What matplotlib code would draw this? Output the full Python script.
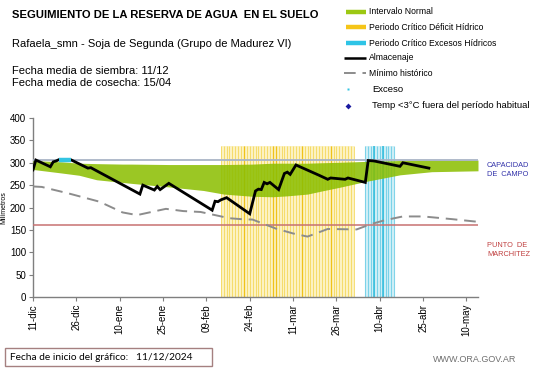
import numpy as np
import pandas as pd
import matplotlib
matplotlib.use("Agg")
import matplotlib.pyplot as plt
from matplotlib.patches import Rectangle

# ---------------- data ----------------
start_date = "2024-12-11"
end_date = "2025-05-14"

tick_dates = ["2024-12-11", "2024-12-26", "2025-01-10", "2025-01-25", "2025-02-09",
              "2025-02-24", "2025-03-11", "2025-03-26", "2025-04-10", "2025-04-25",
              "2025-05-10"]
tick_labels = ["11-dic", "26-dic", "10-ene", "25-ene", "09-feb", "24-feb",
               "11-mar", "26-mar", "10-abr", "25-abr", "10-may"]
y_ticks = [0, 50, 100, 150, 200, 250, 300, 350, 400]

# Almacenaje (day offset from start, mm)
storage_day = [0, 1, 6, 7, 8, 9, 13, 19, 20, 37, 38, 42, 43, 44, 47, 62, 63, 64, 65, 67,
               75, 77, 78, 79, 80, 81, 82, 85, 87, 88, 89, 91, 99, 102, 103, 108, 109,
               115, 116, 118, 127, 128, 137]
storage_mm = [284, 306, 291, 302, 304, 307, 307, 288, 289, 230, 250, 239, 247, 240, 254,
              194, 214, 213, 217, 222, 186, 237, 241, 240, 256, 253, 256, 240, 276, 279,
              274, 295, 272, 263, 266, 263, 266, 256, 305, 304, 292, 300, 288]

# Exceso (storage above field capacity)
exceso_day = [9, 10, 11, 12, 13]
exceso_mm = [307, 307, 307, 307, 307]

# Minimo historico
min_day = [0, 3, 12, 23, 31, 36, 46, 52, 58, 63, 68, 72, 76, 84, 90, 95, 102, 112, 117,
           122, 128, 135, 145, 154]
min_mm = [247, 246, 232, 213, 189, 183, 197, 192, 190, 183, 176, 174, 173, 153, 142,
          135, 152, 151, 163, 172, 180, 180, 174, 168]

# Intervalo normal
band_day = [0, 10, 16, 22, 31, 34, 47, 59, 66, 76, 83, 88, 95, 100, 106, 115, 127, 138, 154]
band_upper = [305, 302, 299, 298, 297, 297, 296, 296, 296, 297, 299, 299, 299, 300, 301,
              303, 305, 306, 306]
band_lower = [285, 277, 272, 262, 256, 254, 246, 238, 230, 225, 224, 226, 230, 237, 245,
              258, 273, 280, 282]

capacidad_campo = 307
punto_marchitez = 161

deficit_start = "2025-02-14"
deficit_end = "2025-04-01"
deficit_strong = ["2025-02-22", "2025-03-04", "2025-03-05", "2025-03-14", "2025-03-24"]
exceso_start = "2025-04-05"
exceso_end = "2025-04-15"
exceso_strong = ["2025-04-08", "2025-04-11"]
period_top = 337

# ---------------- helpers ----------------
t0 = pd.Timestamp(start_date)
def doff(s):
    return (pd.Timestamp(s) - t0).days

W, H = 541, 368
fig = plt.figure(figsize=(W / 100, H / 100), dpi=100)
plt.rcParams['font.family'] = ['Liberation Sans', 'DejaVu Sans']

x0, x1 = 33, 478
ytop, ybot = 118, 297
ax = fig.add_axes([x0 / W, (H - ybot) / H, (x1 - x0) / W, (ybot - ytop) / H])
ax.set_xlim(0, doff(end_date))
ax.set_ylim(0, 400)

# critical periods: pale band + daily lines
ds, de = doff(deficit_start), doff(deficit_end)
ax.fill_between([ds, de], 0, period_top, color="#fcf2c2", lw=0, zorder=1.5)
ax.vlines(np.arange(ds, de + 0.01, 1.0), 0, period_top, color="#f3d654", lw=0.7,
          alpha=0.8, zorder=2)
ax.vlines([doff(s) for s in deficit_strong], 0, period_top, color="#efc21a", lw=0.9,
          zorder=2)
es, ee = doff(exceso_start), doff(exceso_end)
ax.fill_between([es, ee], 0, period_top, color="#d2f0f7", lw=0, zorder=1.5)
ax.vlines(np.arange(es, ee + 0.01, 1.0), 0, period_top, color="#6ccde6", lw=0.8,
          alpha=0.85, zorder=2)
ax.vlines([doff(s) for s in exceso_strong], 0, period_top, color="#30bcdc", lw=1.1,
          zorder=2)

# normal band (slightly see-through so the period lines show)
ax.fill_between(band_day, band_lower, band_upper, color="#8bbe00", alpha=0.86, lw=0,
                zorder=3)

# reference lines
ax.plot([0, doff(end_date)], [capacidad_campo] * 2, color="#a9b4c6", lw=1.3, zorder=3)
ax.plot([0, doff(end_date)], [punto_marchitez] * 2, color="#c77272", lw=1.1, zorder=3)

# minimum historic
ax.plot(min_day, min_mm, color="#8c8c8c", lw=1.4, dashes=(6, 3.5), zorder=4)

# storage
ax.plot(storage_day, storage_mm, color="black", lw=2.0, zorder=5, solid_joinstyle="miter")
ax.plot(exceso_day, exceso_mm, color="#33c4e2", lw=3.2, zorder=6, solid_capstyle="butt")

for s in ["top", "right"]:
    ax.spines[s].set_visible(False)
for s in ["left", "bottom"]:
    ax.spines[s].set_color("#7f7f7f")
    ax.spines[s].set_linewidth(1.0)
ax.set_yticks(y_ticks)
ax.set_yticklabels([str(v) for v in y_ticks], fontsize=7)
ax.set_xticks([doff(s) for s in tick_dates])
ax.set_xticklabels(tick_labels, rotation=90, fontsize=7)
ax.tick_params(axis="both", length=3, width=0.8, color="#7f7f7f", pad=2)
ax.set_ylabel("Milímetros", fontsize=5, labelpad=2)

# ---------------- overlay for text / legend ----------------
ov = fig.add_axes([0, 0, 1, 1], zorder=10)
ov.set_xlim(0, W)
ov.set_ylim(H, 0)
ov.axis("off")
ov.patch.set_alpha(0)

ov.text(12, 15, "SEGUIMIENTO DE LA RESERVA DE AGUA  EN EL SUELO", fontsize=8.1,
        fontweight="bold", va="center", ha="left")
ov.text(12, 44, "Rafaela_smn - Soja de Segunda (Grupo de Madurez VI)", fontsize=8,
        va="center", ha="left")
ov.text(12, 71, "Fecha media de siembra: 11/12", fontsize=8, va="center", ha="left")
ov.text(12, 83, "Fecha media de cosecha: 15/04", fontsize=8, va="center", ha="left")

lx0, lx1, tx = 346, 366, 369
rows = [12, 27, 43, 58, 73, 89, 106]
ov.plot([lx0, lx1], [rows[0]] * 2, color="#9cc813", lw=3.2, solid_capstyle="butt")
ov.plot([lx0, lx1], [rows[1]] * 2, color="#f5c518", lw=3.2, solid_capstyle="butt")
ov.plot([lx0, lx1], [rows[2]] * 2, color="#2ec4e6", lw=3.2, solid_capstyle="butt")
ov.plot([lx0 - 2, lx1], [rows[3]] * 2, color="black", lw=1.8, solid_capstyle="butt")
ov.plot([lx0 - 2, lx1], [rows[4]] * 2, color="#8c8c8c", lw=1.4, dashes=(6, 3.5))
ov.plot([348], [rows[5]], marker="s", ms=2, color="#33c4e2", mec="none")
ov.plot([348], [rows[6]], marker="D", ms=3, color="#1a1aa0", mec="none")
labels = ["Intervalo Normal", "Periodo Crítico Déficit Hídrico",
          "Periodo Crítico Excesos Hídricos", "Almacenaje", "Mínimo histórico",
          "Exceso", "Temp <3°C fuera del período habitual"]
for i, (r, lab) in enumerate(zip(rows, labels)):
    ov.text(tx if i < 5 else tx + 3, r, lab, fontsize=6.2 if i < 5 else 6.8,
            va="center", ha="left")

ov.text(487, 170, "CAPACIDAD\nDE  CAMPO", fontsize=5.3, color="#3333aa", va="center",
        ha="left", linespacing=1.25)
ov.text(487, 250, "PUNTO  DE\nMARCHITEZ", fontsize=5.3, color="#c04040", va="center",
        ha="left", linespacing=1.25)

ov.add_patch(Rectangle((5, 348), 207, 18, fill=False, ec="#a58080", lw=1.0))
ov.text(10, 357, "Fecha de inicio del gráfico:   11/12/2024", fontsize=7.3,
        family=["Lato", "DejaVu Sans"], va="center", ha="left")
ov.text(516, 360, "WWW.ORA.GOV.AR", fontsize=6.5, color="#707070", va="center",
        ha="right")

fig.savefig("out.png", dpi=100)
